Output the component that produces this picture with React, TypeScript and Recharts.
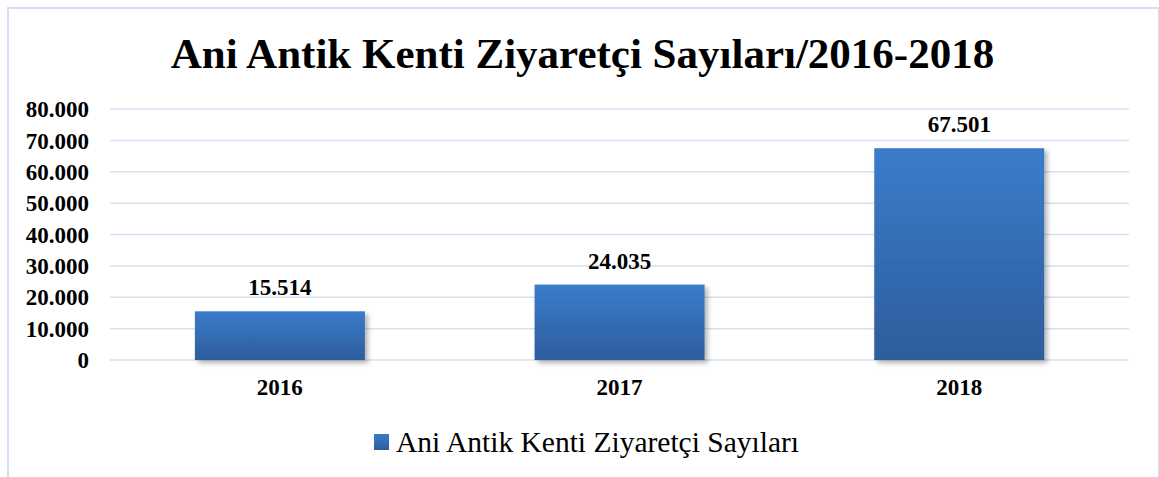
import { BarChart, Bar, CartesianGrid, XAxis, YAxis, LabelList, Legend } from 'recharts';

const years = ['2016', '2017', '2018'];
const visitors = [15514, 24035, 67501];
const yTicks = [0, 10000, 20000, 30000, 40000, 50000, 60000, 70000, 80000];
const seriesName = 'Ani Antik Kenti Ziyaretçi Sayıları';
const title = 'Ani Antik Kenti Ziyaretçi Sayıları/2016-2018';

const data = years.map((year, i) => ({ year, value: visitors[i] }));

const serif = '"Liberation Serif", "Times New Roman", serif';

const fmt = (v: number | string) => String(v).replace(/\B(?=(\d{3})+(?!\d))/g, '.');

const BarShape = (props: any) => {
  const { x, y, width, height } = props;
  if (!height || height <= 0) return null;
  return <rect x={x} y={y} width={width} height={height} fill="url(#barFill)" filter="url(#barShadow)" />;
};

const renderLegend = () => (
  <div style={{ display: 'flex', alignItems: 'center', justifyContent: 'center', height: 34, paddingLeft: 14, fontFamily: serif, fontSize: 29.5, color: '#000' }}>
    <span style={{ display: 'inline-block', width: 15, height: 16, marginRight: 7, background: 'linear-gradient(#3b7bc9, #2d5e9e)' }} />
    <span>{seriesName}</span>
  </div>
);

function App() {
  return (
    <div style={{ position: 'fixed', left: 0, top: 0, width: 1159, height: 477, background: '#fff', overflow: 'hidden' }}>
      <div
        style={{
          position: 'absolute',
          left: 7,
          top: 7,
          width: 1149,
          height: 490,
          border: '2px solid #d3e0f1',
        }}
      />
      <div
        style={{
          position: 'absolute',
          left: 7,
          width: 1151,
          top: 26,
          textAlign: 'center',
          fontFamily: serif,
          fontWeight: 'bold',
          fontSize: 43,
          lineHeight: '56px',
          color: '#000',
        }}
      >
        {title}
      </div>
      <div style={{ position: 'absolute', left: 0, top: 0 }}>
        <BarChart width={1159} height={477} data={data} margin={{ top: 109, right: 30, bottom: 33, left: 0 }} barCategoryGap="25%">
          <defs>
            <linearGradient id="barFill" x1="0" y1="0" x2="0" y2="1">
              <stop offset="0%" stopColor="#3b7cca" />
              <stop offset="100%" stopColor="#2d5d9c" />
            </linearGradient>
            <filter id="barShadow" x="-10%" y="-10%" width="125%" height="130%">
              <feDropShadow dx="3" dy="3" stdDeviation="2.5" floodColor="#000" floodOpacity="0.3" />
            </filter>
          </defs>
          <CartesianGrid vertical={false} stroke="#d5e1f2" strokeWidth={1.5} />
          <XAxis
            dataKey="year"
            axisLine={false}
            tickLine={false}
            tickSize={0}
            tickMargin={19}
            height={50}
            tick={{ fontFamily: serif, fontWeight: 'bold', fontSize: 23, fill: '#000' }}
          />
          <YAxis
            domain={[0, 80000]}
            ticks={yTicks}
            interval={0}
            axisLine={false}
            tickLine={false}
            tickSize={0}
            tickMargin={21}
            width={110}
            tickFormatter={fmt}
            tick={{ fontFamily: serif, fontWeight: 'bold', fontSize: 23, fill: '#000' }}
          />
          <Legend
            content={renderLegend}
            verticalAlign="bottom"
            wrapperStyle={{ position: 'absolute', left: 0, width: 1159, height: 34, top: 425 }}
          />
          <Bar dataKey="value" name={seriesName} shape={BarShape} isAnimationActive={false}>
            <LabelList
              dataKey="value"
              position="top"
              offset={16}
              formatter={fmt}
              style={{ fontFamily: serif, fontWeight: 'bold', fontSize: 23, fill: '#000' }}
            />
          </Bar>
        </BarChart>
      </div>
    </div>
  );
}

export default App;
